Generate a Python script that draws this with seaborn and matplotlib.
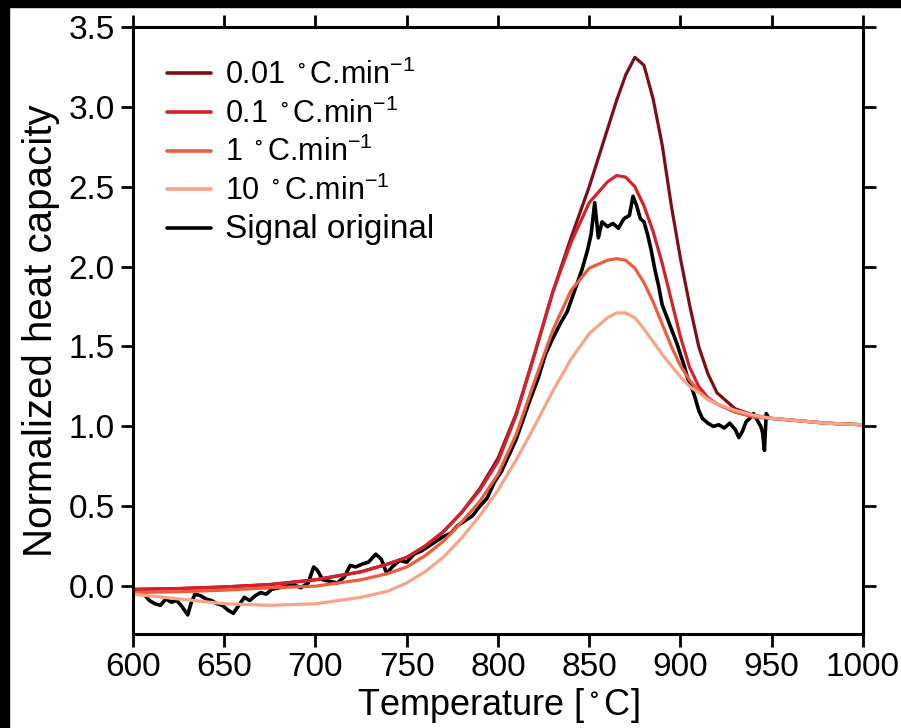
import matplotlib
matplotlib.use("Agg")
import matplotlib.pyplot as plt
import seaborn as sns
import pandas as pd
from matplotlib.patches import Rectangle

# Temperaturgitter for modellkurvene
temp = [600, 625, 650, 675, 700, 725, 740, 750, 760, 770, 780, 790, 800, 810, 820,
        830, 840, 850, 860, 865, 870, 875, 880, 885, 890, 895, 900, 905, 910, 915,
        920, 930, 940, 950, 960, 980, 1000]

cp_001 = [-0.02, -0.015, -0.005, 0.01, 0.04, 0.09, 0.14, 0.18, 0.25, 0.34, 0.46, 0.61,
          0.80, 1.08, 1.45, 1.84, 2.18, 2.50, 2.86, 3.04, 3.20, 3.31, 3.26, 3.05, 2.76,
          2.38, 2.05, 1.76, 1.50, 1.33, 1.21, 1.11, 1.07, 1.05, 1.04, 1.02, 1.01]
cp_01 = [-0.02, -0.015, -0.005, 0.01, 0.04, 0.09, 0.14, 0.18, 0.25, 0.34, 0.46, 0.60,
         0.78, 1.07, 1.45, 1.84, 2.15, 2.40, 2.53, 2.57, 2.56, 2.50, 2.38, 2.22, 2.02,
         1.79, 1.56, 1.37, 1.25, 1.18, 1.14, 1.09, 1.06, 1.05, 1.04, 1.02, 1.01]
cp_1 = [-0.04, -0.035, -0.025, -0.01, 0.0, 0.04, 0.08, 0.12, 0.19, 0.28, 0.40, 0.53,
        0.70, 0.95, 1.28, 1.60, 1.85, 1.99, 2.04, 2.05, 2.04, 1.99, 1.90, 1.78, 1.64,
        1.50, 1.38, 1.29, 1.22, 1.17, 1.14, 1.09, 1.06, 1.05, 1.04, 1.02, 1.01]
cp_10 = [-0.05, -0.08, -0.11, -0.12, -0.11, -0.07, -0.03, 0.02, 0.09, 0.18, 0.30, 0.44,
         0.60, 0.79, 1.00, 1.22, 1.42, 1.58, 1.68, 1.71, 1.71, 1.68, 1.61, 1.53, 1.45,
         1.38, 1.31, 1.25, 1.21, 1.17, 1.14, 1.10, 1.07, 1.05, 1.04, 1.02, 1.01]

# Målt signal
sig_T = [600, 603, 606, 609, 612, 615, 618, 621, 624, 627, 630, 632, 634, 637, 640,
         643, 646, 649, 652, 655, 658, 661, 664, 667, 670, 673, 676, 680, 684, 688,
         692, 696, 699, 701, 704, 708, 712, 716, 719, 722, 726, 729, 733, 736, 739,
         742, 746, 750, 754, 758, 762, 766, 770, 774, 778, 782, 786, 790, 794, 798,
         802, 806, 810, 814, 818, 822, 826, 830, 834, 838, 842, 846, 849, 851, 853,
         855, 857, 860, 863, 866, 869, 872, 874, 876, 878, 880, 882, 884, 886, 888,
         890, 892, 894, 896, 898, 900, 902, 904, 906, 908, 910, 912, 915, 918, 921,
         924, 927, 930, 932, 934, 936, 938, 940, 942, 944, 945, 946, 947, 948]
sig_cp = [-0.03, -0.04, -0.05, -0.09, -0.11, -0.12, -0.08, -0.10, -0.09, -0.13, -0.18,
          -0.10, -0.05, -0.06, -0.08, -0.09, -0.11, -0.12, -0.15, -0.17, -0.12, -0.07,
          -0.09, -0.06, -0.04, -0.05, -0.02, -0.01, 0.0, 0.01, -0.01, 0.02, 0.12, 0.10,
          0.04, 0.03, 0.02, 0.06, 0.13, 0.12, 0.14, 0.15, 0.20, 0.17, 0.08, 0.12, 0.16,
          0.15, 0.20, 0.22, 0.25, 0.28, 0.31, 0.33, 0.38, 0.41, 0.44, 0.50, 0.55, 0.65,
          0.72, 0.82, 0.92, 1.05, 1.18, 1.30, 1.45, 1.55, 1.64, 1.72, 1.85, 1.98, 2.10,
          2.20, 2.40, 2.18, 2.28, 2.25, 2.27, 2.24, 2.30, 2.32, 2.44, 2.38, 2.30, 2.28,
          2.20, 2.10, 1.98, 1.88, 1.76, 1.70, 1.64, 1.58, 1.52, 1.45, 1.38, 1.30, 1.25,
          1.18, 1.10, 1.05, 1.02, 1.00, 1.01, 0.99, 1.02, 0.98, 0.93, 0.97, 1.03, 1.05,
          1.08, 1.04, 1.00, 0.96, 0.85, 1.08, 1.06]

labels = [r"0.01 $^\circ$C.min$^{-1}$", r"0.1 $^\circ$C.min$^{-1}$",
          r"1 $^\circ$C.min$^{-1}$", r"10 $^\circ$C.min$^{-1}$"]
colors = ["#7d0f14", "#d8202a", "#ef5b3d", "#f5a488"]

sns.set_style("ticks")
plt.rcParams["font.family"] = ["Liberation Sans", "DejaVu Sans"]
plt.rcParams["mathtext.default"] = "regular"
plt.rcParams["mathtext.fontset"] = "custom"
plt.rcParams["mathtext.rm"] = "Liberation Sans"
for key in ["text.color", "axes.labelcolor", "xtick.color", "ytick.color", "axes.edgecolor"]:
    plt.rcParams[key] = "black"

fig = plt.figure(figsize=(9.01, 7.28), dpi=100, facecolor="white")
ax = fig.add_axes([0.1476, 0.129, 0.9578 - 0.1476, 0.963 - 0.129])

for cp, lab, col in zip([cp_001, cp_01, cp_1, cp_10], labels, colors):
    df = pd.DataFrame({"T": temp, "cp": cp})
    sns.lineplot(data=df, x="T", y="cp", ax=ax, color=col, linewidth=2.3, label=lab,
                 errorbar=None)

df_sig = pd.DataFrame({"T": sig_T, "cp": sig_cp})
sns.lineplot(data=df_sig, x="T", y="cp", ax=ax, color="black", linewidth=2.6,
             label="Signal original", errorbar=None, zorder=1.9)

ax.set_xlim(600, 1000)
ax.set_ylim(-0.3, 3.5)
ax.set_xticks(range(600, 1001, 50))
ax.set_yticks([0.0, 0.5, 1.0, 1.5, 2.0, 2.5, 3.0, 3.5])
ax.set_yticklabels(["0.0", "0.5", "1.0", "1.5", "2.0", "2.5", "3.0", "3.5"])
ax.tick_params(direction="out", length=9, width=2, top=True, right=True,
               labelsize=24, pad=4)
for sp in ax.spines.values():
    sp.set_linewidth(2.2)

ax.set_xlabel(r"Temperature [$^\circ$C]", fontsize=26, labelpad=2)
ax.set_ylabel("Normalized heat capacity", fontsize=29, labelpad=6)

leg = ax.legend(loc="upper left", frameon=False, fontsize=22, handlelength=1.45,
                handletextpad=0.45, labelspacing=0.24, borderaxespad=0.0,
                bbox_to_anchor=(0.03, 0.966))
for line in leg.get_lines():
    line.set_linewidth(2.6)
leg.get_texts()[-1].set_fontsize(24)

# svart kant øverst og til venstre
fig.patches.append(Rectangle((0, 0), 0.01, 1, transform=fig.transFigure,
                             color="black", zorder=10))
fig.patches.append(Rectangle((0, 0.9904), 1, 0.0096, transform=fig.transFigure,
                             color="black", zorder=10))

fig.savefig("out.png", dpi=100, facecolor="white")
